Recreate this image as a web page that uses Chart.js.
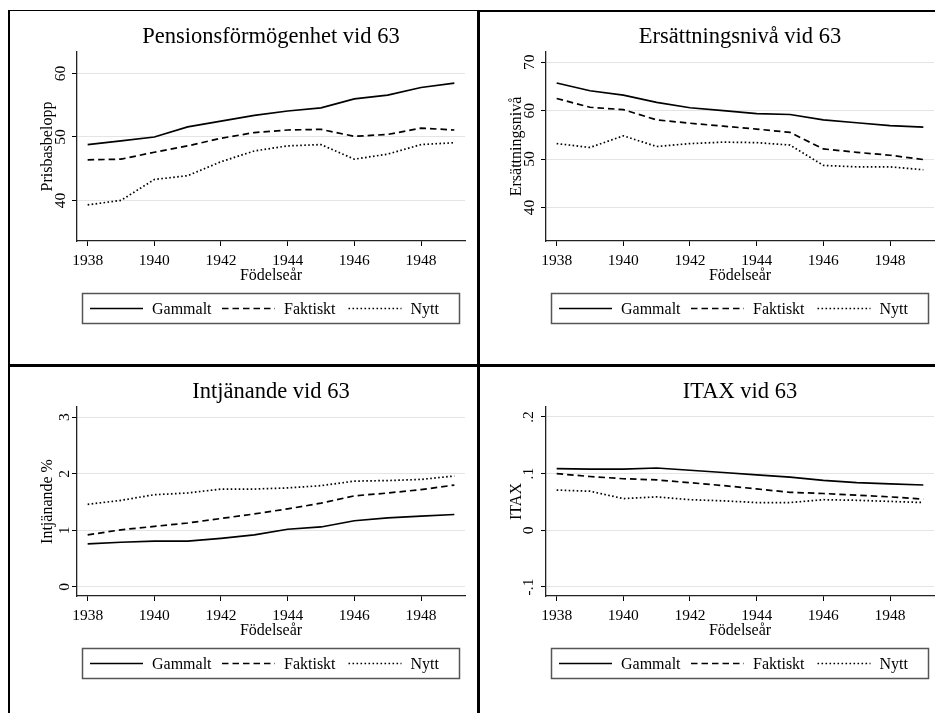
<!DOCTYPE html>
<html>
<head>
<meta charset="utf-8">
<script src="https://cdn.jsdelivr.net/npm/chart.js@4.4.1/dist/chart.umd.min.js"></script>
<style>
  body { margin: 0; background: #fff; }
  #wrap { position: relative; width: 935px; height: 713px; overflow: hidden; background: #fff; }
  canvas { position: absolute; }
  .rule { position: absolute; background: #000; z-index: 2; }
</style>
</head>
<body>
<div id="wrap">
  <canvas id="c1"></canvas>
  <canvas id="c2"></canvas>
  <canvas id="c3"></canvas>
  <canvas id="c4"></canvas>
  <div class="rule" style="left:8px;top:10px;width:470px;height:1px"></div>
  <div class="rule" style="left:478px;top:10px;width:457px;height:2px"></div>
  <div class="rule" style="left:8px;top:10px;width:2px;height:703px"></div>
  <div class="rule" style="left:477px;top:10px;width:3px;height:703px"></div>
  <div class="rule" style="left:8px;top:364px;width:927px;height:3px"></div>
</div>
<script>
// birth cohorts on the x axis
const years = [1938, 1939, 1940, 1941, 1942, 1943, 1944, 1945, 1946, 1947, 1948, 1949];
const xTicks = [1938, 1940, 1942, 1944, 1946, 1948];
const seriesNames = ["Gammalt", "Faktiskt", "Nytt"];

// Pensionsförmögenhet vid 63 (prisbasbelopp)
const pensionGammalt = [48.8, 49.4, 50.0, 51.6, 52.5, 53.4, 54.1, 54.6, 56.0, 56.6, 57.8, 58.5];
const pensionFaktiskt = [46.4, 46.5, 47.6, 48.6, 49.8, 50.7, 51.1, 51.2, 50.1, 50.4, 51.4, 51.1];
const pensionNytt = [39.3, 40.0, 43.3, 43.9, 46.1, 47.8, 48.6, 48.8, 46.5, 47.3, 48.8, 49.1];
const pensionTicks = [40, 50, 60];

// Ersättningsnivå vid 63
const ersGammalt = [65.7, 64.1, 63.2, 61.7, 60.6, 60.0, 59.4, 59.2, 58.1, 57.5, 56.9, 56.6];
const ersFaktiskt = [62.5, 60.7, 60.2, 58.1, 57.4, 56.8, 56.2, 55.5, 52.1, 51.4, 50.8, 49.9];
const ersNytt = [53.2, 52.4, 54.8, 52.6, 53.2, 53.5, 53.4, 52.9, 48.7, 48.4, 48.4, 47.8];
const ersTicks = [40, 50, 60, 70];

// Intjänande vid 63 (%)
const intjGammalt = [0.76, 0.79, 0.81, 0.81, 0.86, 0.92, 1.02, 1.06, 1.17, 1.22, 1.25, 1.28];
const intjFaktiskt = [0.92, 1.01, 1.07, 1.13, 1.21, 1.29, 1.38, 1.48, 1.61, 1.66, 1.72, 1.80];
const intjNytt = [1.46, 1.53, 1.63, 1.66, 1.73, 1.73, 1.75, 1.79, 1.87, 1.88, 1.90, 1.96];
const intjTicks = [0, 1, 2, 3];

// ITAX vid 63
const itaxGammalt = [0.109, 0.108, 0.108, 0.110, 0.106, 0.102, 0.098, 0.094, 0.088, 0.084, 0.082, 0.080];
const itaxFaktiskt = [0.100, 0.095, 0.091, 0.089, 0.084, 0.079, 0.073, 0.067, 0.065, 0.062, 0.059, 0.055];
const itaxNytt = [0.071, 0.069, 0.056, 0.059, 0.054, 0.052, 0.049, 0.049, 0.054, 0.053, 0.051, 0.049];
const itaxTicks = [-0.1, 0, 0.1, 0.2];
const itaxTickLabels = ["-.1", "0", ".1", ".2"];

const serif = "Liberation Serif";
const lineDash = [[], [6.5, 4], [1.6, 2.4]];

const panels = [
  { id: "c1", left: 10, top: 12, width: 466, padRight: 11, title: "Pensionsförmögenhet vid 63", yTitle: "Prisbasbelopp",
    yMin: 33.6, yMax: 63.4, ticks: pensionTicks, series: [pensionGammalt, pensionFaktiskt, pensionNytt] },
  { id: "c2", left: 479, top: 12, width: 456, padRight: 1, title: "Ersättningsnivå vid 63", yTitle: "Ersättningsnivå",
    yMin: 33.1, yMax: 72.1, ticks: ersTicks, series: [ersGammalt, ersFaktiskt, ersNytt] },
  { id: "c3", left: 10, top: 367, width: 466, padRight: 11, title: "Intjänande vid 63", yTitle: "Intjänande %",
    yMin: -0.16, yMax: 3.18, ticks: intjTicks, series: [intjGammalt, intjFaktiskt, intjNytt] },
  { id: "c4", left: 479, top: 367, width: 456, padRight: 1, title: "ITAX vid 63", yTitle: "ITAX",
    yMin: -0.1159, yMax: 0.2176, ticks: itaxTicks, tickLabels: itaxTickLabels, series: [itaxGammalt, itaxFaktiskt, itaxNytt] }
];

// title above the plot region and the boxed legend underneath, Stata style
const stataDecor = {
  id: "stataDecor",
  afterDraw(chart, args, opts) {
    const { ctx, chartArea } = chart;
    const cx = (chartArea.left + chartArea.right) / 2;
    ctx.save();
    ctx.fillStyle = "#000";
    ctx.font = "22.5px '" + serif + "'";
    ctx.textAlign = "center";
    ctx.textBaseline = "alphabetic";
    ctx.fillText(opts.title, cx, 31.3);

    const bx = cx - 188.5, by = 281.5, bw = 377, bh = 30;
    ctx.strokeStyle = "#555";
    ctx.lineWidth = 1.5;
    ctx.strokeRect(bx, by, bw, bh);

    const keyX = [7.5, 139.5, 266];
    ctx.font = "16px '" + serif + "'";
    ctx.textAlign = "left";
    ctx.textBaseline = "middle";
    chart.data.datasets.forEach((ds, i) => {
      const x0 = bx + keyX[i], y0 = by + bh / 2;
      ctx.strokeStyle = ds.borderColor;
      ctx.lineWidth = ds.borderWidth;
      ctx.setLineDash(ds.borderDash);
      ctx.beginPath();
      ctx.moveTo(x0, y0);
      ctx.lineTo(x0 + 53, y0);
      ctx.stroke();
      ctx.setLineDash([]);
      ctx.fillText(ds.label, x0 + 62, y0 + 1.5);
    });
    ctx.restore();
  }
};

panels.forEach(p => {
  const canvas = document.getElementById(p.id);
  canvas.width = p.width;
  canvas.height = 351;
  canvas.style.left = p.left + "px";
  canvas.style.top = p.top + "px";

  new Chart(canvas, {
    type: "line",
    data: {
      labels: years,
      datasets: seriesNames.map((name, i) => ({
        label: name,
        data: p.series[i],
        borderColor: "#000",
        borderWidth: 1.7,
        borderDash: lineDash[i],
        pointRadius: 0,
        tension: 0,
        fill: false
      }))
    },
    options: {
      responsive: false,
      animation: false,
      layout: { padding: { top: 40, left: 0, right: p.padRight, bottom: 79 } },
      plugins: {
        legend: { display: false },
        title: { display: false },
        tooltip: { enabled: false },
        stataDecor: { title: p.title }
      },
      scales: {
        x: {
          type: "linear",
          min: 1937.68,
          max: 1949.32,
          afterBuildTicks: s => { s.ticks = xTicks.map(v => ({ value: v })); },
          afterFit: s => { s.height = 43; },
          grid: { display: true, drawOnChartArea: false, drawTicks: true, tickLength: 5, tickColor: "#000" },
          border: { color: "#222", width: 1.3 },
          ticks: {
            color: "#000",
            font: { family: serif, size: 15.5 },
            padding: 5.6,
            maxRotation: 0,
            autoSkip: false,
            callback: v => String(v)
          },
          title: {
            display: true,
            text: "Födelseår",
            color: "#000",
            font: { family: serif, size: 16, lineHeight: 1 },
            padding: { top: 0, bottom: 0 }
          }
        },
        y: {
          type: "linear",
          min: p.yMin,
          max: p.yMax,
          afterBuildTicks: s => { s.ticks = p.ticks.map(v => ({ value: v })); },
          afterFit: s => { s.width = 67; },
          grid: { color: "#e4e4e4", lineWidth: 1, tickColor: "#000", tickLength: 5 },
          border: { color: "#222", width: 1.3 },
          ticks: {
            minRotation: 90,
            maxRotation: 90,
            crossAlign: "center",
            padding: 3.5,
            color: "#000",
            font: { family: serif, size: 15.5 },
            callback: (v, i) => p.tickLabels ? p.tickLabels[i] : String(v)
          },
          title: {
            display: true,
            text: p.yTitle,
            color: "#000",
            font: { family: serif, size: 16, lineHeight: 1 },
            padding: { top: 30, bottom: 0 }
          }
        }
      }
    },
    plugins: [stataDecor]
  });
});
</script>
</body>
</html>
